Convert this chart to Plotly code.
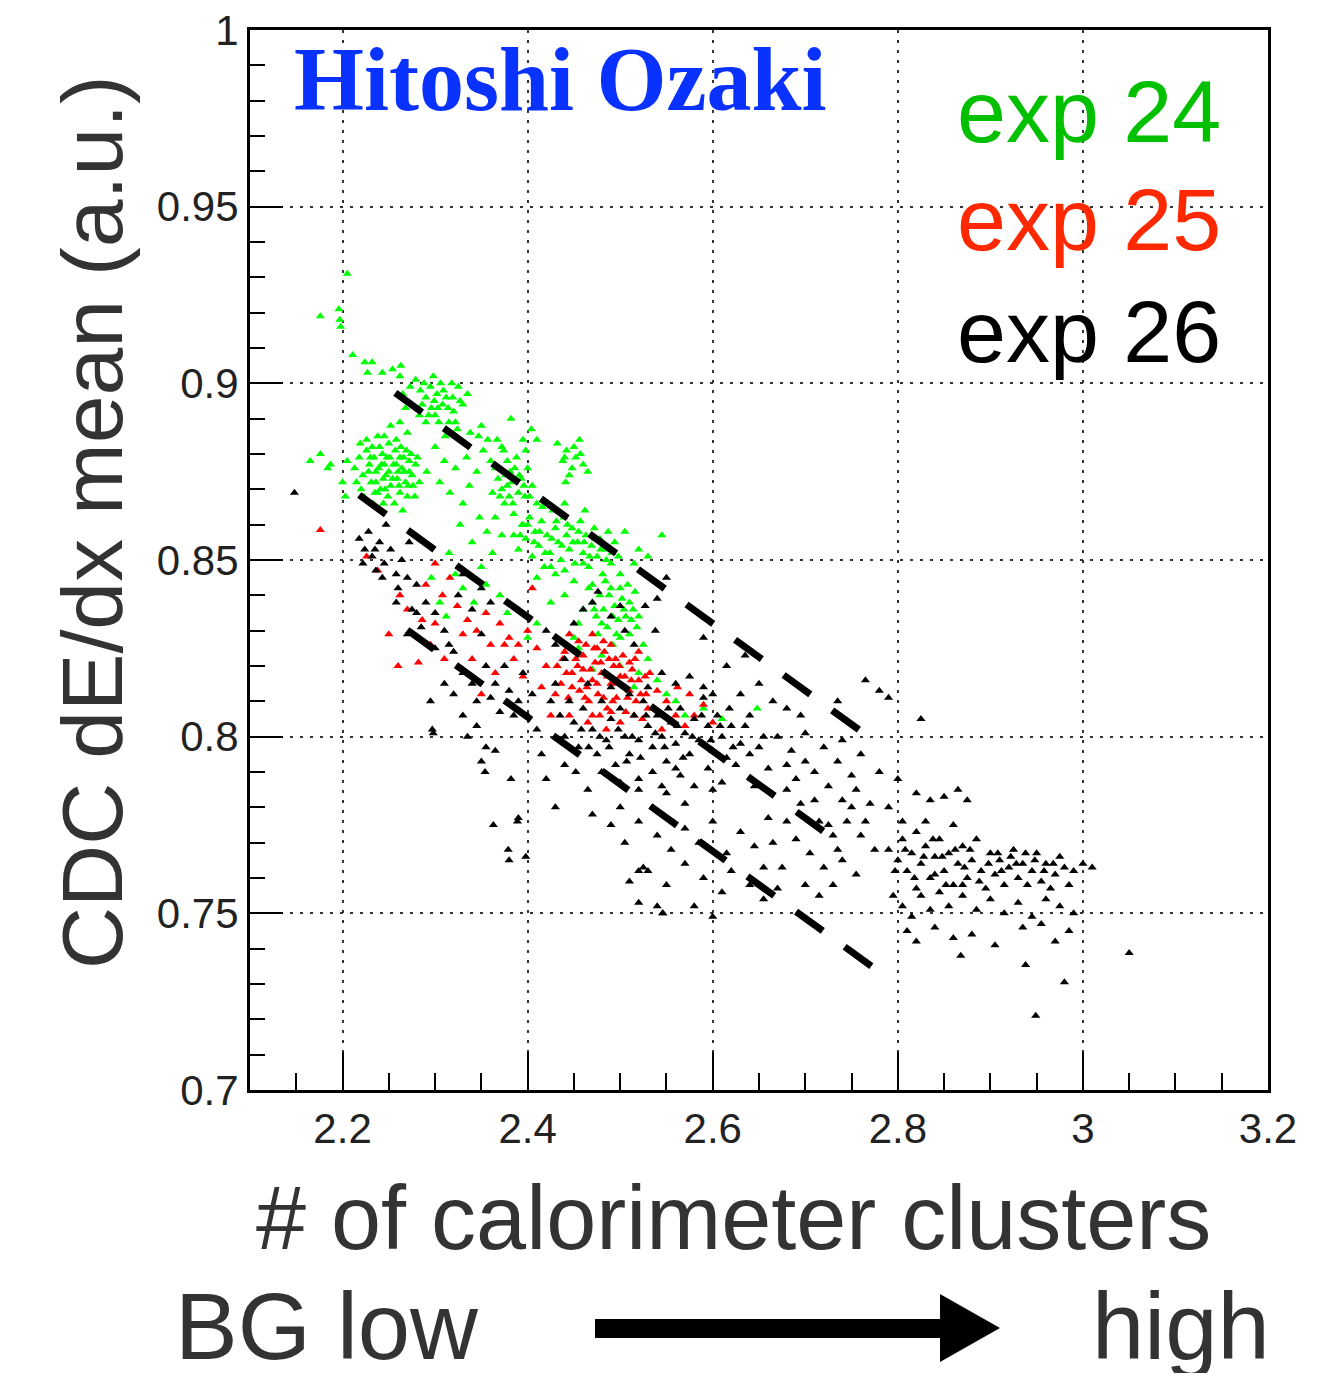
import plotly.graph_objects as go

# ---------------- data ----------------
green_x = [2.205,2.176,2.196,2.197,2.198,
 2.211,2.224,2.232,2.243,2.254,2.263,2.262,2.279,2.298,2.227,2.273,
 2.284,2.29,2.295,2.302,2.308,2.3,2.315,2.29,2.311,2.286,2.32,2.325,2.33,2.318,2.306,2.296,2.312,2.324,2.283,2.335,
 2.265,2.268,2.262,2.27,2.258,2.252,2.245,
 2.338,2.347,2.352,2.334,2.3,2.31,2.322,2.291,2.345,2.36,2.372,2.382,2.395,2.41,2.404,2.337,2.33,2.316,2.305,
 2.213,2.218,2.222,2.226,2.229,2.231,2.234,2.236,2.238,2.24,2.242,2.244,2.246,2.248,2.25,2.252,2.255,2.257,2.259,2.262,
 2.264,2.266,2.268,2.27,2.272,2.274,2.276,2.279,2.233,2.244,2.226,2.238,2.256,2.22,2.265,2.25,2.236,2.247,2.262,2.272,
 2.165,2.176,2.184,2.187,2.2,2.203,2.205,
 2.368,2.372,2.376,2.38,2.383,2.386,2.39,2.393,2.397,2.375,2.362,2.388,2.4,2.405,2.398,2.378,2.365,2.41,2.385,2.395,
 2.432,2.438,2.442,2.448,2.452,2.456,2.46,2.445,2.465,2.441,
 2.348,2.356,2.34,2.362,2.35,2.327,2.365,2.372,
 2.385,2.39,2.394,2.398,2.402,2.405,2.408,2.412,2.415,2.418,2.421,2.424,2.427,2.43,2.433,2.436,2.439,2.442,2.445,2.448,
 2.451,2.454,2.457,2.46,2.463,2.466,2.469,2.472,2.475,2.478,2.481,2.484,2.487,2.49,2.494,2.498,2.416,2.44,2.462,2.43,
 2.41,2.45,2.47,2.5,
 2.52,2.53,2.545,2.505,2.515,
 2.466,2.47,2.474,2.478,2.482,2.486,2.49,2.494,2.498,2.502,2.506,2.51,2.514,2.518,2.484,2.5,2.492,2.508,2.476,2.516,
 2.46,2.455,2.44,2.425,2.45,
 2.315,2.322,2.33,2.305,2.342,2.355,2.37,2.378,2.296,2.312,
 2.48,2.5,2.52,2.53,2.515,2.54,2.55,2.56,2.535,2.47,2.455,2.57,2.59,2.61,2.648,2.525,
 2.41,2.4,
 2.215,2.219,2.223,2.228,2.232,2.235,2.239,2.241,2.243,2.249,2.251,2.254,2.258,2.261,2.263,2.267,2.269,2.271,2.275,2.278,
 2.281,2.283,2.23,2.245,2.26,
 2.288,2.293,2.299,2.304,2.309,2.314,2.319,2.322,2.327,2.303,
 2.4,2.407,2.413,2.419,2.426,2.431,2.437,2.443,2.449,2.455,2.461,2.467,2.473,2.479,2.485,2.491,2.425,2.44,2.46,2.392,
 2.48,2.488,2.496,2.504,2.512,2.472,2.5,2.492,2.51,2.52,
 2.37,2.378,2.384,2.391,2.396,2.402,2.381,2.374,
 2.35,2.357,2.44,2.45,2.457,2.367]
green_y = [0.931,0.919,0.921,0.918,0.916,
 0.908,0.906,0.906,0.903,0.904,0.905,0.902,0.901,0.902,0.903,0.899,
 0.898,0.896,0.899,0.897,0.894,0.891,0.889,0.889,0.885,0.894,0.892,0.899,0.894,0.9,0.9,0.893,0.896,0.887,0.891,0.897,
 0.897,0.893,0.889,0.886,0.884,0.888,0.885,
 0.886,0.885,0.881,0.879,0.882,0.878,0.876,0.875,0.875,0.878,0.882,0.89,0.884,0.884,0.887,0.871,0.866,0.869,0.872,
 0.876,0.879,0.874,0.881,0.877,0.872,0.879,0.875,0.869,0.882,0.877,0.873,0.87,0.879,0.875,0.871,0.877,0.881,0.873,0.869,
 0.876,0.879,0.872,0.868,0.875,0.88,0.871,0.877,0.866,0.866,0.884,0.885,0.866,0.87,0.864,0.883,0.872,0.874,0.879,0.878,
 0.878,0.88,0.876,0.877,0.872,0.868,0.878,
 0.873,0.87,0.874,0.868,0.872,0.876,0.869,0.873,0.868,0.866,0.869,0.879,0.876,0.871,0.881,0.878,0.876,0.866,0.863,0.86,
 0.883,0.878,0.881,0.876,0.879,0.884,0.877,0.874,0.875,0.872,
 0.862,0.858,0.855,0.852,0.848,0.86,0.862,0.857,
 0.857,0.853,0.86,0.856,0.862,0.851,0.858,0.854,0.861,0.848,0.857,0.852,0.864,0.859,0.855,0.85,0.862,0.857,0.853,0.859,
 0.849,0.855,0.861,0.852,0.857,0.848,0.854,0.859,0.851,0.856,0.846,0.853,0.858,0.849,0.855,0.851,0.865,0.866,0.864,0.846,
 0.845,0.844,0.843,0.846,
 0.853,0.851,0.857,0.858,0.849,
 0.842,0.838,0.834,0.84,0.836,0.831,0.842,0.837,0.833,0.839,0.834,0.829,0.836,0.831,0.844,0.828,0.826,0.843,0.829,0.841,
 0.836,0.832,0.84,0.838,0.828,
 0.852,0.846,0.842,0.838,0.838,0.843,0.84,0.835,0.845,0.834,
 0.823,0.82,0.818,0.822,0.814,0.816,0.812,0.81,0.808,0.819,0.825,0.806,0.808,0.805,0.808,0.826,
 0.832,0.828,
 0.872,0.883,0.868,0.875,0.882,0.869,0.876,0.87,0.88,0.868,0.879,0.873,0.877,0.871,0.882,0.875,0.881,0.871,0.874,0.868,
 0.879,0.872,0.879,0.877,0.875,
 0.9,0.891,0.895,0.889,0.898,0.893,0.896,0.889,0.895,0.893,
 0.86,0.855,0.858,0.852,0.856,0.861,0.854,0.86,0.855,0.858,0.855,0.851,0.856,0.853,0.85,0.852,0.848,0.847,0.849,0.857,
 0.832,0.84,0.829,0.836,0.833,0.836,0.842,0.834,0.838,0.834,
 0.868,0.871,0.866,0.874,0.871,0.868,0.875,0.881,
 0.888,0.884,0.879,0.882,0.88,0.884]

red_x = [2.176,
 2.238,2.226,2.262,2.27,2.25,2.29,2.3,2.308,2.286,2.295,2.316,2.324,2.335,2.282,2.31,2.26,
 2.345,2.355,2.36,2.37,2.38,2.39,2.385,2.4,2.41,2.42,2.395,2.415,2.365,2.35,2.405,2.34,
 2.432,2.436,2.44,2.444,2.448,2.452,2.456,2.46,2.463,2.466,2.47,2.473,2.476,2.48,2.483,2.486,2.49,2.493,2.496,2.5,
 2.503,2.506,2.51,2.513,2.517,2.52,2.524,2.528,2.532,2.536,2.54,2.455,2.47,2.49,2.445,2.465,2.485,2.5,2.475,2.458,
 2.478,2.495,2.51,2.52,2.445,2.43,2.425,
 2.55,2.56,2.57,2.58,2.59,2.6,2.545,2.562,2.575,
 2.448,2.454,2.46,2.464,2.468,2.472,2.475,2.479,2.482,2.486,2.488,2.492,2.497,2.499,2.505,2.508,2.512,2.516,2.522,2.527,
 2.462,2.442,2.438,2.482,2.53,2.515,2.49,2.47,2.375,2.39,2.33,2.3]
red_y = [0.8585,
 0.847,0.851,0.84,0.836,0.829,0.843,0.849,0.84,0.833,0.826,0.845,0.837,0.833,0.821,0.822,0.82,
 0.83,0.835,0.826,0.832,0.828,0.836,0.822,0.83,0.825,0.82,0.817,0.814,0.818,0.812,0.842,0.822,
 0.82,0.815,0.824,0.811,0.818,0.822,0.813,0.819,0.826,0.81,0.816,0.821,0.812,0.818,0.824,0.808,0.815,0.82,0.811,0.817,
 0.823,0.807,0.813,0.819,0.81,0.816,0.805,0.812,0.818,0.808,0.813,0.827,0.829,0.826,0.806,0.804,0.802,0.804,0.825,0.816,
 0.806,0.822,0.821,0.824,0.829,0.812,0.806,
 0.81,0.806,0.803,0.806,0.809,0.804,0.802,0.814,0.812,
 0.814,0.82,0.823,0.814,0.819,0.825,0.815,0.821,0.811,0.817,0.822,0.81,0.815,0.82,0.817,0.811,0.816,0.822,0.812,0.817,
 0.811,0.818,0.822,0.827,0.808,0.806,0.807,0.806,0.826,0.826,0.829,0.832]

black_x = [2.148,
 2.218,2.224,2.232,2.24,2.245,2.236,2.252,2.228,2.258,2.264,2.247,2.272,
 2.27,2.28,2.29,2.275,2.285,2.3,2.31,2.258,2.27,2.325,2.33,2.3,2.32,2.34,2.35,2.35,2.36,
 2.31,2.32,2.33,2.34,2.355,2.36,2.37,2.38,2.39,2.375,2.395,2.4,2.41,2.295,2.33,2.345,2.298,
 2.35,2.355,2.365,2.354,2.382,2.389,2.379,2.398,2.42,2.43,2.415,2.44,
 2.42,2.43,2.44,2.45,2.46,2.47,2.49,2.5,2.505,2.515,
 2.425,2.435,2.44,2.45,2.455,2.46,2.47,2.475,2.48,2.485,2.49,2.495,2.5,2.505,2.51,2.515,2.52,2.525,2.53,2.535,
 2.54,2.545,2.55,2.555,2.56,2.565,2.57,2.575,2.58,2.585,2.59,2.595,2.6,2.605,2.61,2.615,2.62,2.53,2.545,2.56,
 2.575,2.59,2.6,2.51,2.49,2.465,
 2.48,2.5,2.52,2.535,2.55,2.565,2.58,2.595,2.61,2.625,2.63,2.64,2.64,2.655,2.66,2.645,
 2.47,2.49,2.505,2.52,2.54,2.555,2.57,2.585,2.6,2.615,2.63,2.645,2.66,2.53,2.55,2.57,2.59,2.61,2.62,2.64,
 2.655,2.54,2.525,2.51,2.546,2.58,2.6,2.655,2.67,
 2.63,2.65,2.665,2.68,2.695,2.67,2.685,2.7,2.72,2.735,2.75,2.71,2.725,2.74,2.755,2.77,2.68,2.695,2.715,2.73,
 2.745,2.76,2.775,2.69,2.705,2.72,2.74,2.755,2.7,2.715,2.73,2.675,2.665,2.68,
 2.735,2.78,2.79,2.765,2.825,2.74,2.635,2.59,2.615,
 2.76,2.78,2.8,2.79,2.805,2.82,2.835,2.85,2.865,2.83,2.86,2.875,
 2.79,2.8,2.805,2.81,2.815,2.82,2.825,2.83,2.835,2.84,2.845,2.85,2.855,2.86,2.865,2.87,2.875,2.88,2.885,2.89,
 2.895,2.9,2.905,2.91,2.915,2.92,2.925,2.93,2.935,2.94,2.945,2.95,2.955,2.96,2.965,2.97,2.98,2.99,3.0,3.01,2.985,
 2.795,2.805,2.815,2.825,2.835,2.845,2.855,2.87,2.885,2.9,2.915,2.93,2.945,2.96,2.975,2.99,2.81,2.82,2.84,2.86,
 2.88,2.905,2.935,2.955,2.97,2.985,
 3.05,2.949,2.98,2.938,2.868,2.546,2.52,2.52,2.39,2.38,2.363,2.335,
 2.527,2.476,2.54,2.55,2.538,2.297,
 2.43,2.445,2.458,2.466,2.478,2.488,2.498,2.507,2.513,2.522,2.528,2.538,2.548,2.552,2.562,2.568,2.578,2.588,2.598,2.608,
 2.618,2.622,2.635,2.65,2.52,2.545,2.56,2.6,2.57,2.5,2.465,2.452,
 2.797,2.808,2.818,2.828,2.838,2.848,2.852,2.862,2.872,2.878,2.888,2.898,2.908,2.912,2.922,2.928,2.938,2.948,2.958,2.968,
 2.975,2.84,2.87,2.82,
 2.7,2.71,2.725,2.735,2.75,2.765,2.68,2.69,
 2.222,2.235,2.243,2.26,2.28,2.315,2.345,2.365,2.385,2.405]
black_y = [0.869,
 0.856,0.853,0.851,0.855,0.849,0.847,0.853,0.858,0.846,0.85,0.86,0.855,
 0.845,0.843,0.838,0.836,0.831,0.835,0.83,0.838,0.829,0.84,0.846,0.825,0.824,0.836,0.829,0.842,0.838,
 0.815,0.812,0.818,0.815,0.82,0.811,0.807,0.813,0.81,0.82,0.818,0.806,0.802,0.81,0.806,0.803,0.801,
 0.793,0.797,0.796,0.79,0.788,0.776,0.768,0.766,0.788,0.78,0.795,0.792,
 0.83,0.826,0.822,0.832,0.836,0.838,0.834,0.837,0.83,0.826,
 0.81,0.806,0.8,0.804,0.797,0.808,0.802,0.795,0.81,0.799,0.805,0.792,0.808,0.8,0.795,0.806,0.799,0.81,0.803,0.797,
 0.806,0.8,0.793,0.804,0.798,0.808,0.801,0.795,0.805,0.799,0.811,0.803,0.796,0.806,0.8,0.794,0.803,0.814,0.818,0.815,
 0.817,0.814,0.812,0.812,0.814,0.815,
 0.79,0.787,0.785,0.79,0.784,0.789,0.786,0.791,0.787,0.792,0.798,0.795,0.806,0.8,0.791,0.786,
 0.778,0.775,0.77,0.776,0.772,0.768,0.774,0.77,0.776,0.767,0.773,0.769,0.777,0.762,0.758,0.764,0.76,0.756,0.762,0.758,
 0.763,0.752,0.763,0.759,0.75,0.752,0.749,0.754,0.757,
 0.812,0.815,0.81,0.808,0.806,0.8,0.796,0.801,0.797,0.793,0.789,0.79,0.786,0.782,0.785,0.781,0.785,0.781,0.776,0.772,
 0.776,0.772,0.768,0.771,0.767,0.763,0.765,0.761,0.758,0.755,0.758,0.763,0.77,0.776,
 0.81,0.813,0.811,0.816,0.805,0.799,0.823,0.828,0.82,
 0.795,0.79,0.788,0.78,0.776,0.784,0.782,0.783,0.785,0.776,0.775,0.782,
 0.768,0.765,0.771,0.762,0.767,0.773,0.764,0.769,0.76,0.766,0.771,0.762,0.767,0.758,0.764,0.769,0.76,0.765,0.771,0.762,
 0.757,0.767,0.761,0.765,0.758,0.763,0.768,0.76,0.764,0.758,0.762,0.767,0.759,0.764,0.757,0.761,0.763,0.762,0.764,0.763,0.758,
 0.755,0.752,0.749,0.755,0.751,0.756,0.752,0.755,0.751,0.754,0.75,0.753,0.749,0.754,0.752,0.75,0.745,0.742,0.746,0.743,
 0.744,0.741,0.746,0.747,0.742,0.745,
 0.7388,0.721,0.7305,0.7354,0.738,0.75,0.753,0.762,0.777,0.765,0.775,0.8,
 0.837,0.841,0.839,0.845,0.83,0.802,
 0.815,0.81,0.802,0.797,0.8,0.797,0.802,0.793,0.8,0.794,0.806,0.801,0.797,0.808,0.803,0.794,0.8,0.806,0.799,0.803,
 0.808,0.797,0.803,0.797,0.788,0.786,0.791,0.785,0.781,0.78,0.785,0.79,
 0.762,0.768,0.76,0.766,0.771,0.766,0.758,0.768,0.763,0.768,0.759,0.764,0.767,0.762,0.766,0.764,0.767,0.765,0.762,0.764,
 0.766,0.761,0.758,0.757,
 0.793,0.782,0.775,0.768,0.78,0.776,0.792,0.788,
 0.849,0.853,0.845,0.842,0.835,0.826,0.81,0.815,0.806,0.812]

# dashed guide lines (start, end)
line1_x = [2.257, 2.763]
line1_y = [0.8973, 0.8010]
line2_x = [2.218, 2.725]
line2_y = [0.8684, 0.7722]
line3_x = [2.270, 2.777]
line3_y = [0.8302, 0.7340]

y_tick_vals = [0.7, 0.75, 0.8, 0.85, 0.9, 0.95, 1.0]
y_tick_text = ["0.7", "0.75", "0.8", "0.85", "0.9", "0.95", "1"]
x_tick_vals = [2.2, 2.4, 2.6, 2.8, 3.0, 3.2]
x_tick_text = ["2.2", "2.4", "2.6", "2.8", "3", "3.2"]

legend_labels = ["exp 24", "exp 25", "exp 26"]
legend_colors = ["#00c000", "#ff2800", "#000000"]

# ---------------- figure ----------------
# page body has an 8px default margin; the plot area sits at page px 250..1268 x 30..1090
OFF = 8
PAGE_W, PAGE_H = 1327, 1381
X0, X1, Y0, Y1 = 250, 1268, 30, 1090
W, H = PAGE_W - 2 * OFF, PAGE_H - 2 * OFF
L, R, T = X0 - OFF, (OFF + W) - X1, Y0 - OFF
B = (OFF + H) - Y1
PW, PH = X1 - X0, Y1 - Y0

def px(xp):
    return (xp - X0) / PW

def py(yp):
    return (Y1 - yp) / PH

fig = go.Figure()
mk = dict(symbol="triangle-up", size=8, line=dict(width=0))
fig.add_trace(go.Scatter(x=green_x, y=green_y, mode="markers",
                         marker=dict(color="#00ff00", **mk), showlegend=False, hoverinfo="skip"))
fig.add_trace(go.Scatter(x=red_x, y=red_y, mode="markers",
                         marker=dict(color="#ff0000", **mk), showlegend=False, hoverinfo="skip"))
fig.add_trace(go.Scatter(x=black_x, y=black_y, mode="markers",
                         marker=dict(color="#000000", **mk), showlegend=False, hoverinfo="skip"))
for lx, ly in [(line1_x, line1_y), (line2_x, line2_y), (line3_x, line3_y)]:
    fig.add_trace(go.Scatter(x=lx, y=ly, mode="lines",
                             line=dict(color="black", width=7, dash="33px,27px"),
                             showlegend=False, hoverinfo="skip"))

tickfont = dict(family="Liberation Sans, Arial, sans-serif", size=42, color="#222222")
axis_common = dict(showline=True, linecolor="black", linewidth=3, mirror=True,
                   ticks="inside", tickcolor="black", tickwidth=2, tickmode="array",
                   ticklabeloverflow="allow", automargin=False,
                   showgrid=True, gridcolor="#333333", gridwidth=2, griddash="3px,7px",
                   zeroline=False, tickfont=tickfont)

fig.update_layout(
    width=W, height=H,
    margin=dict(l=L, r=R, t=T, b=B, pad=0, autoexpand=False),
    paper_bgcolor="white", plot_bgcolor="white",
    xaxis=dict(range=[2.1, 3.2], tickvals=x_tick_vals, ticktext=x_tick_text, ticklen=38,
               minor=dict(tickmode="linear", tick0=2.1, dtick=0.05, ticks="inside", ticklen=17,
                          tickwidth=2, tickcolor="black", showgrid=False),
               **axis_common),
    yaxis=dict(range=[0.7, 1.0], tickvals=y_tick_vals, ticktext=y_tick_text, ticklen=33,
               minor=dict(tickmode="linear", tick0=0.7, dtick=0.01, ticks="inside", ticklen=15,
                          tickwidth=2, tickcolor="black", showgrid=False),
               **axis_common),
)

txt_color = "#333333"
sans = "Liberation Sans, Arial, sans-serif"
ann = []
# axis titles
ann.append(dict(text="CDC dE/dx mean (a.u.)", x=px(92), y=py(522), textangle=-90,
                font=dict(family=sans, size=86, color=txt_color)))
ann.append(dict(text="# of calorimeter clusters", x=px(733), y=py(1218),
                font=dict(family=sans, size=90, color=txt_color)))
ann.append(dict(text="BG low", x=px(327), y=py(1326),
                font=dict(family=sans, size=94, color=txt_color)))
ann.append(dict(text="high", x=px(1181), y=py(1326),
                font=dict(family=sans, size=94, color=txt_color)))
# watermark name
ann.append(dict(text="<b>Hitoshi Ozaki</b>", x=px(292), y=py(79), xanchor="left",
                font=dict(family="Liberation Serif, Times New Roman, serif", size=90, color="#0a32ff")))
# legend-like labels
for lab, col, yc in zip(legend_labels, legend_colors, [111, 220, 331]):
    ann.append(dict(text=lab, x=px(1223), y=py(yc), xanchor="right",
                    font=dict(family=sans, size=88, color=col)))
for a in ann:
    a.setdefault("xanchor", "center")
    a.update(xref="paper", yref="paper", yanchor="middle", showarrow=False)
fig.update_layout(annotations=ann)

# arrow below the axis
pts = [(595, 1319), (940, 1319), (940, 1294), (1000, 1328), (940, 1362), (940, 1338), (595, 1338)]
path = "M " + " L ".join(f"{px(a):.5f},{py(b):.5f}" for a, b in pts) + " Z"
fig.add_shape(type="path", path=path, xref="paper", yref="paper",
              fillcolor="black", line=dict(color="black", width=0))

fig.write_html("out.html")
